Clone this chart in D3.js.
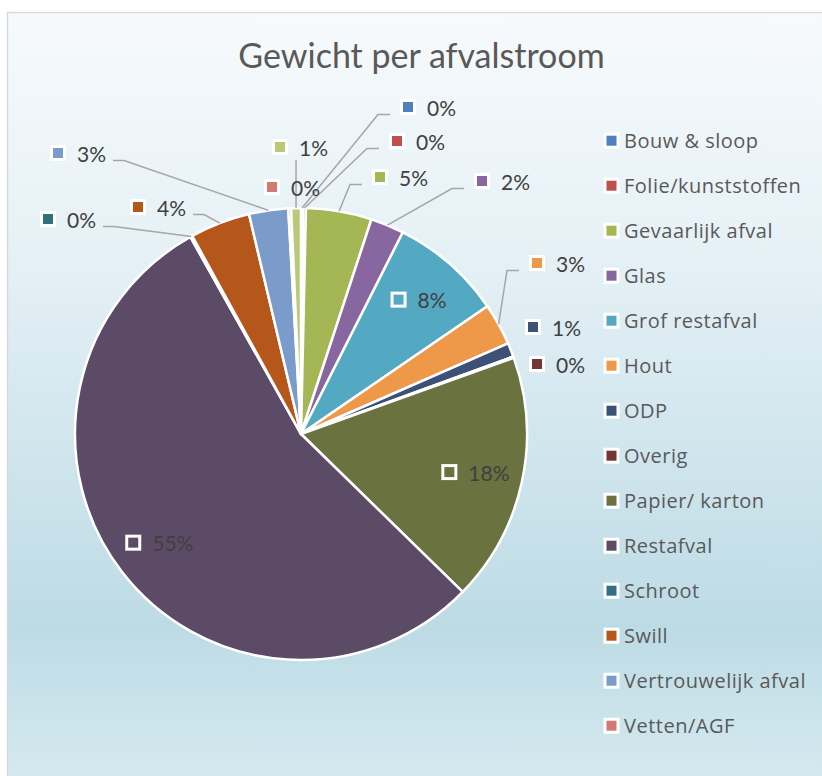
<!DOCTYPE html>
<html>
<head>
<meta charset="utf-8">
<script src="https://cdn.jsdelivr.net/npm/d3@7"></script>
<style>
  html, body { margin: 0; padding: 0; background: #ffffff; }
  svg { display: block; }
</style>
</head>
<body>
<div id="chart"></div>
<script>
// ---- Data ----
const title = "Gewicht per afvalstroom";
const categories = ["Bouw & sloop", "Folie/kunststoffen", "Gevaarlijk afval", "Glas", "Grof restafval",
  "Hout", "ODP", "Overig", "Papier/ karton", "Restafval", "Schroot", "Swill",
  "Vertrouwelijk afval", "Vetten/AGF", "Overige stromen"];
const values = [0.15, 0.2, 4.7, 2.4, 8.0, 3.0, 1.0, 0.1, 17.8, 54.6, 0.15, 4.3, 2.8, 0.2, 0.7];
const colors = ["#4F81BD", "#C0504D", "#A5B654", "#8866A0", "#53A8C2", "#EE984A", "#3B5276", "#733833",
  "#6A7240", "#5C4B66", "#33707F", "#B5561A", "#7B9CCA", "#D27875", "#B9C978"];
const legendCount = 14; // legend is cut off after the 14th entry
const insideLabels = ["Grof restafval", "Papier/ karton", "Restafval"];

// ---- Layout (annotation placement, offsets from pie centre) ----
const labelLayout = {
  "Bouw & sloop":        { dx: 107, dy: -327, leader: "right" },
  "Folie/kunststoffen":  { dx: 96,  dy: -293, leader: "right" },
  "Gevaarlijk afval":    { dx: 79,  dy: -257, leader: "right" },
  "Glas":                { dx: 181, dy: -253, leader: "right" },
  "Hout":                { dx: 236, dy: -171, leader: "right" },
  "ODP":                 { dx: 232, dy: -107, leader: "none" },
  "Overig":              { dx: 236, dy: -70,  leader: "none" },
  "Schroot":             { dx: -253, dy: -215, leader: "left" },
  "Swill":               { dx: -163, dy: -227, leader: "left" },
  "Vertrouwelijk afval": { dx: -243, dy: -281, leader: "left" },
  "Vetten/AGF":          { dx: -29, dy: -247, leader: "none" },
  "Overige stromen":     { dx: -21, dy: -287, leader: "below" }
};

const W = 822, H = 776;
const cx = 301, cy = 434, R = 226;
const FONT = "Lato, 'Open Sans', sans-serif";
const LEGEND_FONT = "'Open Sans', Lato, sans-serif";

const svg = d3.select("#chart").append("svg").attr("width", W).attr("height", H);

// background gradient
const defs = svg.append("defs");
const grad = defs.append("linearGradient").attr("id", "bg")
  .attr("gradientUnits", "userSpaceOnUse").attr("x1", 0).attr("y1", 12).attr("x2", 0).attr("y2", 800);
[[0, "#F7FAFC"], [0.3, "#E6F1F6"], [0.78, "#BDDBE5"], [1, "#D8EBF1"]].forEach(([o, c]) =>
  grad.append("stop").attr("offset", o).attr("stop-color", c));

svg.append("rect").attr("x", 7.5).attr("y", 12.5).attr("width", W + 10).attr("height", H + 10)
  .attr("fill", "url(#bg)").attr("stroke", "#D9D9D9").attr("stroke-width", 1.5);

// title
svg.append("text").attr("x", 421.5).attr("y", 68).attr("text-anchor", "middle")
  .attr("font-family", FONT).attr("font-size", 34).attr("fill", "#595959").text(title);

const color = d3.scaleOrdinal().domain(categories).range(colors);
const data = categories.map((c, i) => ({ name: c, value: values[i] }));
const total = d3.sum(values);
const fmt = v => Math.round(v / total * 100) + "%";

const pie = d3.pie().sort(null).value(d => d.value);
const arcs = pie(data);
const arc = d3.arc().innerRadius(0).outerRadius(R);
const edgeArc = d3.arc().innerRadius(R).outerRadius(R);
const insideArc = d3.arc().innerRadius(R * 0.79).outerRadius(R * 0.79);

const g = svg.append("g").attr("transform", `translate(${cx},${cy})`);
g.selectAll("path.slice").data(arcs).join("path").attr("class", "slice")
  .attr("d", arc).attr("fill", d => color(d.data.name))
  .attr("stroke", "#ffffff").attr("stroke-width", 2.5).attr("stroke-linejoin", "round");

// data labels
const labelG = g.append("g");
function drawMarker(sel, x, y, fill) {
  const s = 16, inner = 10;
  sel.append("rect").attr("x", x - s / 2).attr("y", y - s / 2).attr("width", s).attr("height", s)
    .attr("fill", "#ffffff");
  sel.append("rect").attr("x", x - inner / 2).attr("y", y - inner / 2).attr("width", inner).attr("height", inner)
    .attr("fill", fill);
}
arcs.forEach(a => {
  const name = a.data.name;
  const txt = fmt(a.data.value);
  const grp = labelG.append("g");
  let mx, my;
  if (insideLabels.includes(name)) {
    const [gx, gy] = insideArc.centroid(a);
    const tmp = grp.append("text").attr("font-family", FONT).attr("font-size", 21).text(txt);
    const tw = tmp.node().getComputedTextLength();
    tmp.remove();
    const gw = 19 + tw + 8;
    mx = gx - gw / 2 + 8; my = gy;
  } else {
    const L = labelLayout[name];
    mx = L.dx; my = L.dy;
  }
  drawMarker(grp, mx, my, color(name));
  const t = grp.append("text").attr("x", mx + 19).attr("y", my + 8.5)
    .attr("font-family", FONT).attr("font-size", 21).attr("fill", "#404040").text(txt);
  const tw = t.node().getComputedTextLength();
  const L = labelLayout[name];
  if (L && L.leader !== "none") {
    const [ex, ey] = edgeArc.centroid(a);
    let pts;
    if (L.leader === "right") {
      pts = [[mx - 18, my + 7.5], [mx - 30, my + 7.5], [ex, ey]];
    } else if (L.leader === "left") {
      const sx = mx + 19 + tw + 7;
      pts = [[sx, my + 7.5], [sx + 11, my + 7.5], [ex, ey]];
    } else {
      pts = [[ex, my + 13], [ex, ey]];
    }
    labelG.insert("path", ":first-child").attr("d", d3.line()(pts)).attr("fill", "none")
      .attr("stroke", "#A6A6A6").attr("stroke-width", 1.5);
  }
});

// legend
const legend = svg.append("g");
const legendY = d3.scaleLinear().domain([0, legendCount - 1]).range([140.7, 725.7]);
categories.slice(0, legendCount).forEach((c, i) => {
  const y = legendY(i);
  const lg = legend.append("g");
  drawMarker(lg, 611.5, y, color(c));
  lg.append("text").attr("x", 624).attr("y", y + 7).attr("font-family", LEGEND_FONT).attr("font-size", 20)
    .attr("letter-spacing", 0.5).attr("fill", "#595959").text(c);
});
</script>
</body>
</html>
